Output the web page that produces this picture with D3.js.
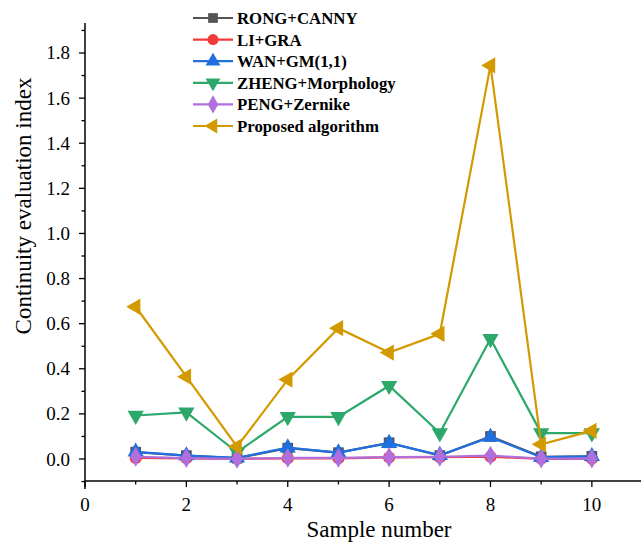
<!DOCTYPE html>
<html><head><meta charset="utf-8">
<script src="https://cdn.jsdelivr.net/npm/d3@7"></script>
<style>body{margin:0;background:#fff}svg{display:block}
text{font-family:"Liberation Serif",Tinos,"Times New Roman",Times,serif;}
</style>
</head><body>
<svg id="c" width="641" height="542"></svg>
<script>
const samples = [1,2,3,4,5,6,7,8,9,10];
const seriesNames = ["RONG+CANNY","LI+GRA","WAN+GM(1,1)","ZHENG+Morphology","PENG+Zernike","Proposed algorithm"];
const rongCanny = [0.030,0.015,0.004,0.048,0.028,0.072,0.015,0.100,0.010,0.012];
const liGra = [0.005,0.003,0.001,0.003,0.003,0.007,0.008,0.010,0.001,0.001];
const wanGm = [0.032,0.015,0.005,0.050,0.028,0.070,0.017,0.097,0.008,0.012];
const zhengMorph = [0.193,0.207,0.030,0.187,0.187,0.325,0.115,0.533,0.115,0.115];
const pengZernike = [0.010,0.004,0.001,0.005,0.005,0.008,0.010,0.015,0.002,0.002];
const proposed = [0.675,0.365,0.055,0.352,0.580,0.472,0.555,1.745,0.065,0.125];
const xTicks = [0,2,4,6,8,10];
const yTicks = [0.0,0.2,0.4,0.6,0.8,1.0,1.2,1.4,1.6,1.8];
const colors = ["#555555","#f23a3a","#1f6fe0","#2ca86a","#b06fdc","#d39a00"];
const symbols = ["square","circle","triangleUp","triangleDown","diamond","triangleLeft"];
const allSeries = [rongCanny,liGra,wanGm,zhengMorph,pengZernike,proposed];

const svg = d3.select("#c");
const x = d3.scaleLinear().domain([0,10.93]).range([85,639]);
const y = d3.scaleLinear().domain([-0.0975,1.933]).range([481,23]);

// axes
const xAxis = svg.append("g").attr("transform","translate(0,481)");
xAxis.append("line").attr("x1",85).attr("x2",641).attr("y1",0).attr("y2",0).attr("stroke","#000").attr("stroke-width",1.5);
d3.range(0,11).forEach(v=>{
  xAxis.append("line").attr("x1",x(v)).attr("x2",x(v)).attr("y1",0).attr("y2",v%2===0?6:3.5).attr("stroke","#000").attr("stroke-width",1.3);
});
xAxis.selectAll("text.t").data(xTicks).enter().append("text").attr("x",d=>x(d)).attr("y",30)
  .attr("text-anchor","middle").attr("font-size",19).text(d=>d);

const yAxis = svg.append("g").attr("transform","translate(85,0)");
yAxis.append("line").attr("x1",0).attr("x2",0).attr("y1",23).attr("y2",489).attr("stroke","#000").attr("stroke-width",1.5);
d3.range(-1,20).forEach(i=>{
  const v=i/10;
  yAxis.append("line").attr("x1",0).attr("x2",i%2===0?-6:-3.5).attr("y1",y(v)).attr("y2",y(v)).attr("stroke","#000").attr("stroke-width",1.3);
});
yAxis.selectAll("text.t").data(yTicks).enter().append("text").attr("x",-15).attr("y",d=>y(d)+6.5)
  .attr("text-anchor","end").attr("font-size",19).text(d=>d.toFixed(1));

svg.append("text").attr("x",379).attr("y",537).attr("text-anchor","middle").attr("font-size",23).text("Sample number");
svg.append("text").attr("transform","translate(31,206) rotate(-90)").attr("text-anchor","middle").attr("font-size",23).text("Continuity evaluation index");

function sym(name,size){
  const map={square:d3.symbolSquare,circle:d3.symbolCircle,triangleUp:d3.symbolTriangle,triangleDown:d3.symbolTriangle,diamond:d3.symbolDiamond,triangleLeft:d3.symbolTriangle};
  return d3.symbol().type(map[name]).size(size)();
}
function rot(name){return name==="triangleDown"?180:name==="triangleLeft"?-90:0;}

const line = d3.line().x((d,i)=>x(samples[i])).y(d=>y(d));
allSeries.forEach((s,k)=>{
  const g = svg.append("g");
  g.append("path").attr("d",line(s)).attr("fill","none").attr("stroke",colors[k]).attr("stroke-width",2.2);
  g.selectAll("path.m").data(s).enter().append("path")
    .attr("d",sym(symbols[k],115))
    .attr("transform",(d,i)=>`translate(${x(samples[i])},${y(d)}) rotate(${rot(symbols[k])})`)
    .attr("fill",colors[k]);
});

// legend
const lg = svg.append("g");
seriesNames.forEach((n,k)=>{
  const yy = 18 + k*21.6;
  lg.append("line").attr("x1",193).attr("x2",233).attr("y1",yy).attr("y2",yy).attr("stroke",colors[k]).attr("stroke-width",2.2);
  lg.append("path").attr("d",sym(symbols[k],95)).attr("transform",`translate(213,${yy}) rotate(${rot(symbols[k])})`).attr("fill",colors[k]);
  lg.append("text").attr("x",237).attr("y",yy+6).attr("font-weight","bold").attr("font-size",16.8).text(n);
});
</script>
</body></html>
